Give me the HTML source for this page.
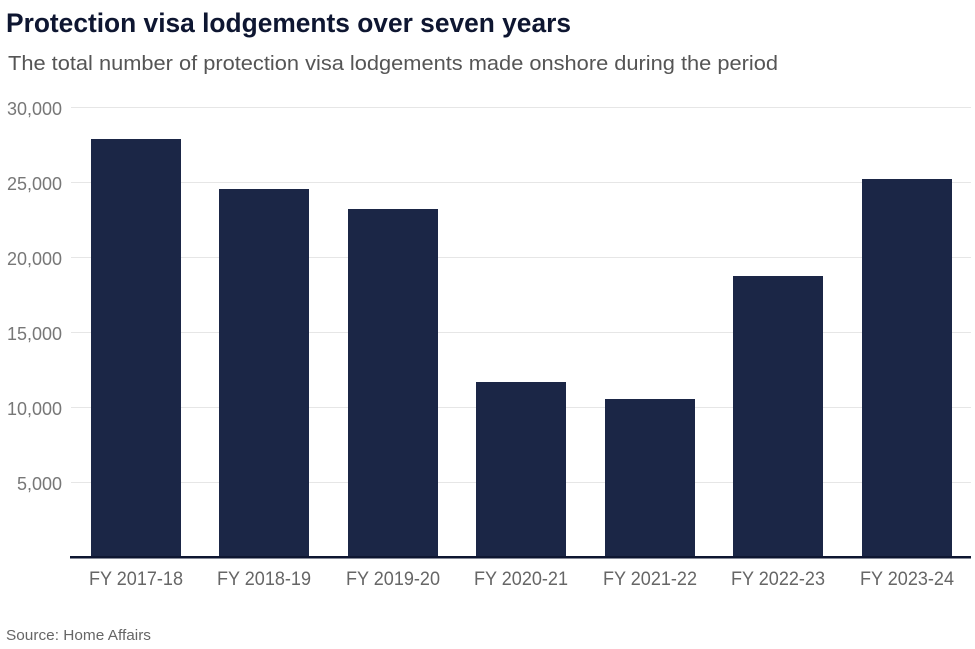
<!DOCTYPE html>
<html>
<head>
<meta charset="utf-8">
<style>
  html, body { margin: 0; padding: 0; background: #ffffff; }
  body { width: 975px; height: 649px; overflow: hidden; }
  svg { display: block; font-family: "Liberation Sans", "DejaVu Sans", sans-serif; }
</style>
</head>
<body>
<svg width="975" height="649" viewBox="0 0 975 649" xmlns="http://www.w3.org/2000/svg">
  <rect width="975" height="649" fill="#ffffff"/>
  <!-- Title -->
  <text x="6" y="32" font-size="27" font-weight="bold" fill="#0e1631" textLength="565" lengthAdjust="spacingAndGlyphs">Protection visa lodgements over seven years</text>
  <!-- Subtitle -->
  <text x="8" y="70" font-size="20" fill="#555555" textLength="770" lengthAdjust="spacingAndGlyphs">The total number of protection visa lodgements made onshore during the period</text>

  <!-- Gridlines -->
  <g stroke="#e6e6e6" stroke-width="1">
    <line x1="71" y1="107.5" x2="971" y2="107.5"/>
    <line x1="71" y1="182.5" x2="971" y2="182.5"/>
    <line x1="71" y1="257.5" x2="971" y2="257.5"/>
    <line x1="71" y1="332.5" x2="971" y2="332.5"/>
    <line x1="71" y1="407.5" x2="971" y2="407.5"/>
    <line x1="71" y1="482.5" x2="971" y2="482.5"/>
  </g>

  <!-- Y labels -->
  <g font-size="18" fill="#777777" text-anchor="end">
    <text x="62" y="115">30,000</text>
    <text x="62" y="190">25,000</text>
    <text x="62" y="265">20,000</text>
    <text x="62" y="340">15,000</text>
    <text x="62" y="415">10,000</text>
    <text x="62" y="490">5,000</text>
  </g>

  <!-- Bars -->
  <g fill="#1b2646">
    <rect x="91" y="139" width="90" height="418"/>
    <rect x="219" y="189" width="90" height="368"/>
    <rect x="348" y="209" width="90" height="348"/>
    <rect x="476" y="382" width="90" height="175"/>
    <rect x="605" y="399" width="90" height="158"/>
    <rect x="733" y="276" width="90" height="281"/>
    <rect x="862" y="179" width="90" height="378"/>
  </g>

  <!-- Baseline -->
  <rect x="70" y="556" width="901" height="2.5" fill="#0e1631"/>

  <!-- X labels -->
  <g font-size="19" fill="#666666" text-anchor="middle">
    <text x="136" y="585" textLength="94" lengthAdjust="spacingAndGlyphs">FY 2017-18</text>
    <text x="264" y="585" textLength="94" lengthAdjust="spacingAndGlyphs">FY 2018-19</text>
    <text x="393" y="585" textLength="94" lengthAdjust="spacingAndGlyphs">FY 2019-20</text>
    <text x="521" y="585" textLength="94" lengthAdjust="spacingAndGlyphs">FY 2020-21</text>
    <text x="650" y="585" textLength="94" lengthAdjust="spacingAndGlyphs">FY 2021-22</text>
    <text x="778" y="585" textLength="94" lengthAdjust="spacingAndGlyphs">FY 2022-23</text>
    <text x="907" y="585" textLength="94" lengthAdjust="spacingAndGlyphs">FY 2023-24</text>
  </g>

  <!-- Source -->
  <text x="6" y="640" font-size="15" fill="#666666" textLength="145" lengthAdjust="spacingAndGlyphs">Source: Home Affairs</text>
</svg>
</body>
</html>
